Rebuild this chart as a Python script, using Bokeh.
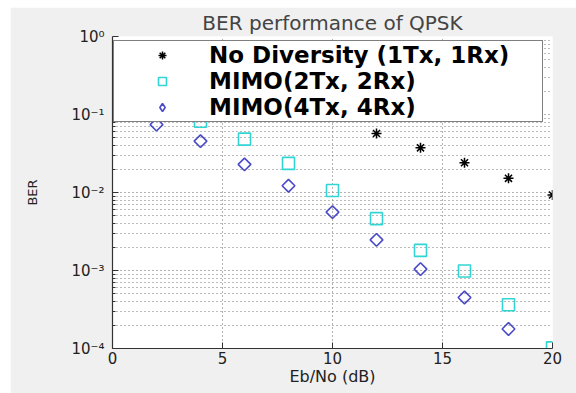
from bokeh.plotting import figure
from bokeh.models import (Range1d, FixedTicker, CustomJSTickFormatter, Legend,
                          LegendItem)
from bokeh.embed import file_html
from bokeh.resources import INLINE

# ---- data ----
snr_nodiv = [0, 2, 4, 6, 8, 10, 12, 14, 16, 18, 20]
ber_nodiv = [0.43, 0.34, 0.26, 0.19, 0.14, 0.1, 0.057, 0.0374, 0.0241, 0.0152, 0.0093]

snr_mimo2 = [0, 2, 4, 6, 8, 10, 12, 14, 16, 18, 20]
ber_mimo2 = [0.224, 0.135, 0.082, 0.0483, 0.0236, 0.0106, 0.00462, 0.00181, 0.000986, 0.000364, 0.000102]

snr_mimo4 = [0, 2, 4, 6, 8, 10, 12, 14, 16, 18]
ber_mimo4 = [0.116, 0.0741, 0.0455, 0.0229, 0.0122, 0.0056, 0.00247, 0.00104, 0.000451, 0.000178]

series_labels = ["No Diversity (1Tx, 1Rx)", "MIMO(2Tx, 2Rx)", "MIMO(4Tx, 4Rx)"]
x_ticks = [0, 5, 10, 15, 20]
y_ticks = [1e-4, 1e-3, 1e-2, 1e-1, 1.0]
y_minor = [m * d for d in [1e-4, 1e-3, 1e-2, 1e-1] for m in range(2, 10)]

FONT = "DejaVu Sans"
CYAN = "#33d4d4"
BLUE = "#4a4ac8"
NAN = float("nan")

p = figure(width=566, height=386, output_backend="svg", toolbar_location=None,
           x_range=Range1d(0, 20), y_range=Range1d(1e-4, 1), y_axis_type="log",
           min_border_left=102, min_border_right=24, min_border_top=27,
           min_border_bottom=45, background_fill_color="white",
           border_fill_color="#f0f0f0", outline_line_color=None)
p.margin = (7, 0, 0, 10)

p.title.text = "BER performance of QPSK"
p.title.align = "center"
p.title.text_font = FONT
p.title.text_font_size = "20px"
p.title.text_font_style = "normal"
p.title.text_color = "#444444"
p.title.standoff = 3

# grids (dotted, major + minor)
p.xgrid.ticker = FixedTicker(ticks=x_ticks)
p.xgrid.grid_line_color = "#666666"
p.xgrid.grid_line_dash = "1 3"
p.ygrid.grid_line_color = "#666666"
p.ygrid.grid_line_dash = "1 3"
p.ygrid.minor_grid_line_color = "#777777"
p.ygrid.minor_grid_line_dash = "1 3"

# markers
r1 = p.scatter(snr_nodiv, ber_nodiv, marker="asterisk", size=10,
               line_color="black", line_width=1.5)
r2 = p.scatter(snr_mimo2, ber_mimo2, marker="square", size=12, fill_color=None,
               line_color=CYAN, line_width=1.6)
r3 = p.scatter(snr_mimo4, ber_mimo4, marker="square", angle=0.785398, size=9,
               fill_color=None, line_color=BLUE, line_width=1.6)
# legend swatch for the diamond series (legend swatches ignore marker angle);
# it holds no drawable point, only provides the key glyph
r3_key = p.scatter([NAN], [NAN], marker="diamond", size=14, fill_color=None,
                   line_color=BLUE, line_width=1.6)

# axes
p.xaxis.ticker = FixedTicker(ticks=x_ticks)
p.yaxis.ticker = FixedTicker(ticks=y_ticks, minor_ticks=y_minor)
p.yaxis.formatter = CustomJSTickFormatter(code="""
const sup = {'-':'⁻','0':'⁰','1':'¹','2':'²','3':'³','4':'⁴','5':'⁵','6':'⁶','7':'⁷','8':'⁸','9':'⁹'};
const e = Math.round(Math.log10(tick));
return '10' + String(e).split('').map(c => sup[c]).join('');
""")

for ax in (p.xaxis[0], p.yaxis[0]):
    ax.axis_line_color = "#333333"
    ax.axis_line_width = 1.2
    ax.major_tick_line_color = "#333333"
    ax.major_tick_in = 6
    ax.major_tick_out = 0
    ax.minor_tick_line_color = "#333333"
    ax.minor_tick_in = 3
    ax.minor_tick_out = 0
    ax.major_label_text_font = FONT
    ax.major_label_text_color = "#222222"
    ax.axis_label_text_font = FONT
    ax.axis_label_text_font_style = "normal"
    ax.axis_label_text_color = "#222222"

p.xaxis.minor_tick_line_color = None
p.xaxis.major_label_text_font_size = "15px"
p.xaxis.major_label_standoff = 3
p.xaxis.axis_label = "Eb/No (dB)"
p.xaxis.axis_label_text_font_size = "16px"
p.xaxis.axis_label_standoff = 0

p.yaxis.major_label_text_font_size = "15px"
p.yaxis.major_label_standoff = 8
p.yaxis.axis_label = "BER"
p.yaxis.axis_label_text_font_size = "13px"
p.yaxis.axis_label_standoff = 28

legend = Legend(items=[LegendItem(label=series_labels[0], renderers=[r1]),
                       LegendItem(label=series_labels[1], renderers=[r2]),
                       LegendItem(label=series_labels[2], renderers=[r3_key])],
                location=(1, 226), margin=0, padding=1, spacing=-2,
                glyph_width=94, glyph_height=20, label_standoff=0,
                label_width=332, label_text_font=FONT,
                label_text_font_size="23px", label_text_font_style="bold",
                label_text_color="black", border_line_color="black",
                border_line_width=1.5, background_fill_color="white",
                background_fill_alpha=1.0)
p.add_layout(legend)

open("out.html", "w", encoding="utf-8").write(file_html(p, INLINE))
